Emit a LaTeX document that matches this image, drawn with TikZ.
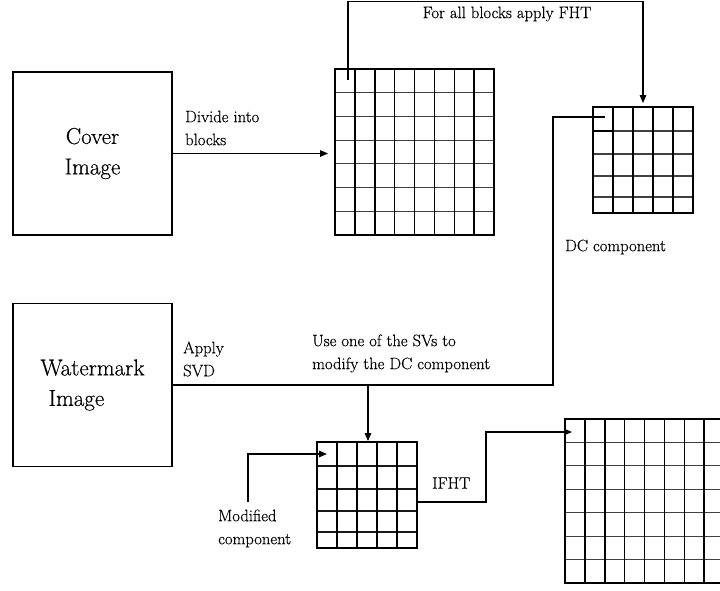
\documentclass[tikz,border=0pt]{standalone}
\usepackage{fontspec}
\setmainfont{Latin Modern Roman}[FakeBold=0.4]
\usetikzlibrary{arrows.meta}
\begin{document}
\begin{tikzpicture}[x=1pt,y=-1pt,
  imgbox/.style={draw, line width=1.3pt, minimum width=159pt, minimum height=163pt, inner sep=0pt, font=\fontsize{23}{30.5}\selectfont},
  gridframe/.style={draw, line width=1.8pt, inner sep=0pt},
  vline/.style={line width=1.5pt},
  hline/.style={line width=1.1pt, black!75},
  conn/.style={line width=1.2pt},
  arr/.style={conn, -{Triangle[length=8pt,width=6.5pt]}},
  lbl/.style={font=\fontsize{16.6}{23}\selectfont, inner sep=0pt, align=left}]
\useasboundingbox (0,0) rectangle (720,590);

% image boxes
\node[imgbox, align=center] (cover) at (92.5,153.5) {Cover\\Image};
\node[imgbox, align=left] (wm) at (92.5,385) {Watermark\\\hspace*{8pt}Image};

% grid G1 (8x7)
\foreach \j in {1,...,6} \draw[hline] (335,{69+\j*166/7}) -- (494,{69+\j*166/7});
\foreach \i in {1,...,7} \draw[vline] ({335+\i*159/8},69) -- ({335+\i*159/8},235);
\node[gridframe, minimum width=159pt, minimum height=166pt] (G1) at (414.5,152) {};

% grid G2 (5x5)
\foreach \r in {24,47,69,90} \draw[hline] (593,{107+\r}) -- (693,{107+\r});
\draw[vline] (593,131) -- (613,131);
\foreach \i in {1,...,4} \draw[vline] ({593+\i*20},107) -- ({593+\i*20},213);
\node[gridframe, minimum width=100pt, minimum height=106pt] (G2) at (643,160) {};

% grid G3 (5x5)
\foreach \r in {24,47,69,90} \draw[hline, black!90] (317,{442+\r}) -- (417,{442+\r});
\foreach \i in {1,...,4} \draw[vline] ({317+\i*20},442) -- ({317+\i*20},548);
\node[gridframe, minimum width=100pt, minimum height=106pt] (G3) at (367,495) {};

% grid G4 (8x7, cut by the page edge)
\foreach \j in {1,...,6} \draw[hline] (565,{419+\j*164/7}) -- (724,{419+\j*164/7});
\foreach \i in {1,...,7} \draw[vline] ({565+\i*159/8},419) -- ({565+\i*159/8},583);
\node[gridframe, minimum width=159pt, minimum height=164pt] (G4) at (644.5,501) {};

% labels
\node[lbl, anchor=west] (divide) at (185,128) {Divide into\\blocks};
\node[lbl] (fht) at (507,14) {For all blocks apply FHT};
\node[lbl, anchor=west] (dclbl) at (565,247) {DC component};
\node[lbl, anchor=west] (svd) at (183,359) {Apply\\SVD};
\node[lbl, anchor=west] (use) at (312,353.5) {Use one of the SVs to\\modify the DC component};
\node[lbl, anchor=west] (ifht) at (432,483) {IFHT};
\node[lbl, anchor=west] (mod) at (218,528.5) {Modified\\component};

% coordinates
\coordinate (a1) at (348,80);
\coordinate (dc) at (605,117);
\coordinate (j2) at (553,385);
\coordinate (j1) at (368,385);
\coordinate (m0) at (248,502);
\coordinate (m1) at (327,454);
\coordinate (i0) at (417,502);
\coordinate (i1) at (572,432);

% connectors
\draw[arr] (cover.east) -- ([xshift=-6pt]cover.east -| G1.west);
\draw[arr] (a1) -- (348,1.5) -| ([yshift=3pt]G2.north);
\draw[conn] (wm.east) -- (j2) |- (dc);
\draw[arr] (j1) -- (j1 |- G3.north);
\draw[arr] (m0) |- (m1);
\draw[arr] (i0) -- (486,502) |- (i1);
\end{tikzpicture}
\end{document}
